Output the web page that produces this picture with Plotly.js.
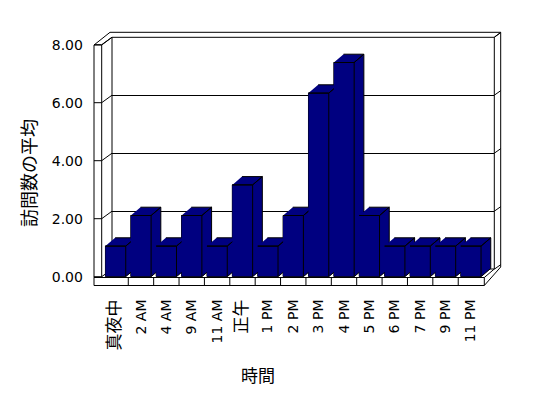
<!DOCTYPE html>
<html>
<head>
<meta charset="utf-8">
<script src="https://cdn.plot.ly/plotly-3.0.1.min.js"></script>
<style>html,body{margin:0;padding:0;background:#fff;}#chart{width:548px;height:398px;}</style>
</head>
<body>
<div id="chart"></div>
<script>
// ---- data ----
const hours = ['真夜中','2 AM','4 AM','9 AM','11 AM','正午','1 PM','2 PM','3 PM','4 PM','5 PM','6 PM','7 PM','9 PM','11 PM'];
const avgVisits = [1,2,1,2,1,3,1,2,6,7,2,1,1,1,1];
const yTickVals = [0,2,4,6,8];
const yTickText = ['0.00','2.00','4.00','6.00','8.00'];
const xTitle = '時間';
const yTitle = '訪問数の平均';

// ---- geometry (pixels) ----
const L = 94, T = 32, W = 408, H = 254;           // plot area
const fx = px => (px - L) / W;
const fy = py => (T + H - py) / H;
const X0 = 102.9, PITCH = 25.38;                  // front face category start, pitch
const Y0 = 276.7, Y8 = 44.7;                      // front axis 0 and 8
const BARPX = 30.6;                               // px per unit of bar scale
const DXPX = 9.7, DYPX = 8.3;                     // bar depth offset
const NAVY = '#000080';

const xRange = [-0.5, 15.0];
const xDomR = X0 + (xRange[1] - xRange[0]) * PITCH;
const yBarMax = (Y0 - Y8) / BARPX;
const bw = 0.4, ddx = DXPX / PITCH, ddy = DYPX / BARPX;

const traces = [];
// back wall subplot placeholder
traces.push({type:'scatter', x:[null], y:[null], xaxis:'x', yaxis:'y', hoverinfo:'skip', showlegend:false});
// front faces as bars
traces.push({
  type:'bar', x: hours.map((h,i)=>i), y: avgVisits, width: 0.8,
  xaxis:'x2', yaxis:'y2',
  marker:{color:NAVY, line:{color:'#000', width:1}},
  hovertext: hours, hoverinfo:'text+y', showlegend:false
});
// 3D faces per bar, drawn in order so later bars occlude earlier sides
avgVisits.forEach((v,i)=>{
  const xs = [i-bw,i+bw,i+bw,i-bw,null,
              i+bw,i+bw+ddx,i+bw+ddx,i+bw,null,
              i-bw,i+bw,i+bw+ddx,i-bw+ddx];
  const ys = [0,0,v,v,null,
              0,ddy,v+ddy,v,null,
              v,v,v+ddy,v+ddy];
  traces.push({type:'scatter', mode:'lines', x:xs, y:ys, fill:'toself', fillcolor:NAVY,
    line:{color:'#000', width:1}, xaxis:'x2', yaxis:'y2', hoverinfo:'skip', showlegend:false});
});
// label axis placeholder
traces.push({type:'scatter', x:[null], y:[null], xaxis:'x2', yaxis:'y3', hoverinfo:'skip', showlegend:false});

// ---- frame shapes ----
const shapes = [];
const line = (x0,y0,x1,y1) => shapes.push({type:'line', xref:'paper', yref:'paper',
  x0:fx(x0), y0:fy(y0), x1:fx(x1), y1:fy(y1), line:{color:'#000', width:1}, layer:'below'});
const rect = (x0,y0,x1,y1) => shapes.push({type:'rect', xref:'paper', yref:'paper',
  x0:fx(x0), y0:fy(y0), x1:fx(x1), y1:fy(y1), line:{color:'#000', width:1}, fillcolor:'rgba(0,0,0,0)', layer:'below'});
rect(94,45,101.7,277.5);
line(94,45,110,32.3); line(101.7,45,112,37.3);
line(110,32.3,500.7,32.3); line(112,37.3,494.3,37.3);
line(494.3,37.3,500.7,32.3);
line(112,37.3,112,269); line(494.3,37.3,494.3,269); line(500.7,32.3,500.7,267);
line(112,269,494.3,269);
rect(94,277.5,484.3,285.5);
line(484.3,277.5,494.3,269); line(484.3,285.5,500.7,267);
yTickVals.forEach(v=>{
  const yf = Y0 - v * (Y0 - Y8) / 8;
  line(94,yf,101.7,yf);
  line(101.7,yf,112,yf-7.5);
  line(494.3,yf-7.5,500.7,yf-12);
});
// floor dividers at category boundaries
for (let i = 0; i < hours.length - 1; i++) {
  shapes.push({type:'line', xref:'x2', yref:'paper', x0:i+0.5, x1:i+0.5, y0:fy(277.5), y1:fy(285.5),
    line:{color:'#000', width:1}, layer:'below'});
}

const isCJK = s => /[^\x00-\x7f]/.test(s);
const tickText = hours.map(h => isCJK(h) ? '<span style="font-size:17px">' + h + '</span>' : h);

const FONT = 'DejaVu Sans, Noto Sans CJK JP, sans-serif';
const layout = {
  width:548, height:398,
  margin:{l:L, r:548-L-W, t:T, b:398-T-H, pad:0},
  paper_bgcolor:'#fff', plot_bgcolor:'rgba(0,0,0,0)',
  showlegend:false,
  font:{family:FONT, size:14, color:'#000'},
  xaxis:{domain:[fx(112), fx(494.3)], range:[0,1], anchor:'y', showgrid:false, zeroline:false,
    showticklabels:false, ticks:'', showline:false},
  yaxis:{domain:[fy(269), fy(37.3)], range:[0,8], anchor:'x', tickvals:yTickVals, showgrid:true,
    gridcolor:'#000', gridwidth:1, zeroline:false, showticklabels:false, ticks:'', showline:false},
  xaxis2:{domain:[fx(X0), fx(xDomR)], range:xRange, anchor:'y2',
    tickvals: hours.map((h,i)=>i), ticktext: tickText, tickangle:-90, ticks:'',
    showgrid:false, zeroline:false, showline:false, ticklabelstandoff:19,
    tickfont:{family:FONT, size:14, color:'#000'}},
  yaxis2:{domain:[fy(Y0), fy(Y8)], range:[0, yBarMax], anchor:'x2', showgrid:false, zeroline:false,
    showticklabels:false, ticks:'', showline:false},
  yaxis3:{overlaying:'y2', anchor:'x2', side:'left', range:[0,8], tickvals:yTickVals, ticktext:yTickText,
    showgrid:false, zeroline:false, ticks:'', showline:false, ticklabelstandoff:19,
    tickfont:{family:FONT, size:14, color:'#000'}},
  shapes: shapes,
  annotations:[
    {text:yTitle, xref:'paper', yref:'paper', x:fx(28), y:fy(173), textangle:-90, showarrow:false,
      xanchor:'center', yanchor:'middle', font:{family:'Noto Sans CJK JP, sans-serif', size:18, color:'#000'}},
    {text:xTitle, xref:'paper', yref:'paper', x:fx(258.3), y:fy(374), showarrow:false,
      xanchor:'center', yanchor:'middle', font:{family:'Noto Sans CJK JP, sans-serif', size:17, color:'#000'}}
  ]
};
Plotly.newPlot('chart', traces, layout, {displayModeBar:false, staticPlot:true});
</script>
</body>
</html>
